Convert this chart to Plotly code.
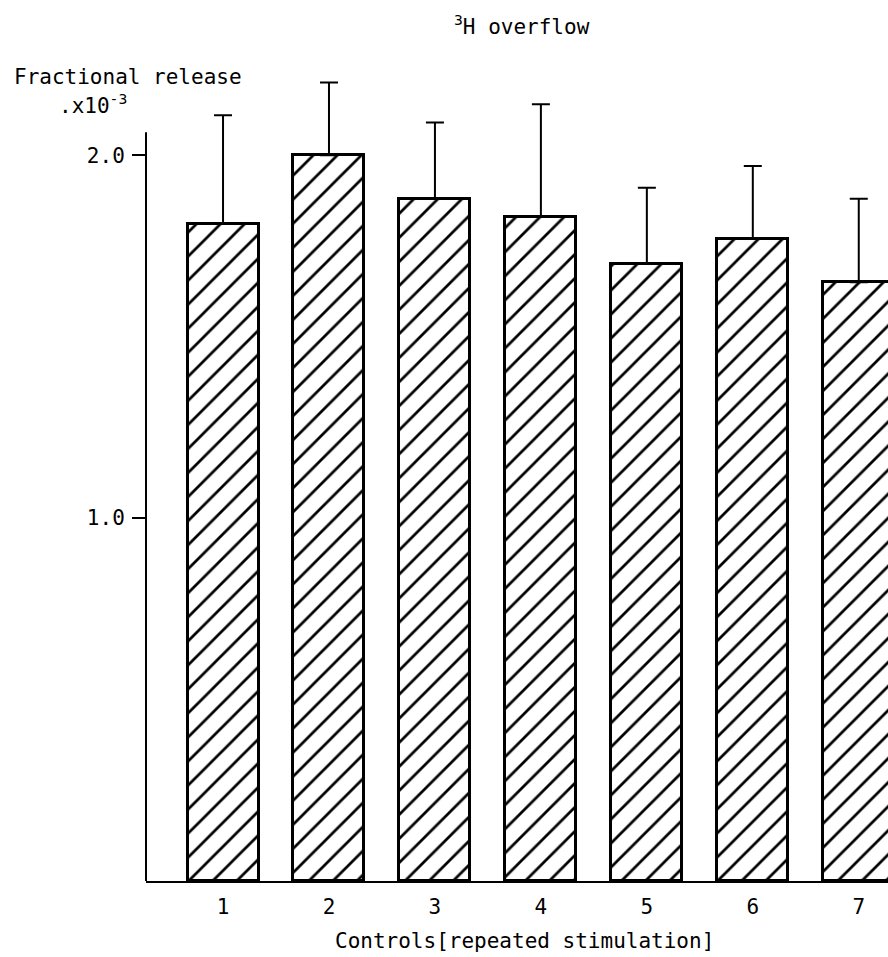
import plotly.graph_objects as go

# ---- data ----
stimulation = [1, 2, 3, 4, 5, 6, 7]
stim_labels = ["1", "2", "3", "4", "5", "6", "7"]
fractional_release = [1.81, 2.00, 1.88, 1.83, 1.70, 1.77, 1.65]
sem_upper = [0.30, 0.20, 0.21, 0.31, 0.21, 0.20, 0.23]
y_tickvals = [1.0, 2.0]
y_ticktext = ["1.0", "2.0"]

# ---- layout geometry ----
W, H = 888, 957
ML, MR, MT, MB = 146, 0, 10, 76
PW, PH = W - ML - MR, H - MT - MB
FONT = "DejaVu Sans Mono"


def px(xp):
    return (xp - ML) / PW


def py(yp):
    return (H - MB - yp) / PH


fig = go.Figure()
fig.add_trace(go.Bar(
    x=stimulation,
    y=fractional_release,
    width=0.67,
    marker=dict(
        color="white",
        line=dict(color="black", width=3),
        pattern=dict(shape="/", fgcolor="black", bgcolor="white", fgopacity=1,
                     size=17, solidity=0.16),
    ),
    error_y=dict(type="data", array=sem_upper, arrayminus=[0] * len(sem_upper),
                 symmetric=False, color="black", thickness=2, width=9),
    showlegend=False,
))

# y-axis line (stops just above the 2.0 tick like the original)
fig.add_shape(type="line", xref="paper", yref="y", x0=0, x1=0, y0=0, y1=2.063,
              line=dict(color="black", width=2))

fig.update_layout(
    width=W, height=H,
    margin=dict(l=ML, r=MR, t=MT, b=MB),
    paper_bgcolor="white", plot_bgcolor="white",
    font=dict(family=FONT, size=21, color="black"),
    bargap=0,
    xaxis=dict(
        range=[0.273, 7.276],
        tickvals=stimulation, ticktext=stim_labels,
        showgrid=False, zeroline=False,
        showline=True, linecolor="black", linewidth=2,
        ticks="", ticklabelstandoff=6,
        tickfont=dict(family=FONT, size=21, color="black"),
    ),
    yaxis=dict(
        range=[0, 2.4],
        tickvals=y_tickvals, ticktext=y_ticktext,
        showgrid=False, zeroline=False, showline=False,
        ticks="outside", ticklen=13, tickwidth=2, tickcolor="black",
        ticklabelstandoff=3,
        tickfont=dict(family=FONT, size=21, color="black"),
    ),
    annotations=[
        dict(text="<sup>3</sup>H overflow", xref="paper", yref="paper",
             x=px(522), y=py(25), xanchor="center", yanchor="middle",
             showarrow=False, font=dict(family=FONT, size=21, color="black")),
        dict(text="Fractional release", xref="paper", yref="paper",
             x=px(12), y=py(77), xanchor="left", yanchor="middle",
             showarrow=False, font=dict(family=FONT, size=21, color="black")),
        dict(text=".x10<sup>-3</sup>", xref="paper", yref="paper",
             x=px(57), y=py(104), xanchor="left", yanchor="middle",
             showarrow=False, font=dict(family=FONT, size=21, color="black")),
        dict(text="Controls[repeated stimulation]", xref="paper", yref="paper",
             x=px(524), y=py(941), xanchor="center", yanchor="middle",
             showarrow=False, font=dict(family=FONT, size=21, color="black")),
    ],
)

fig.write_html("out.html")
